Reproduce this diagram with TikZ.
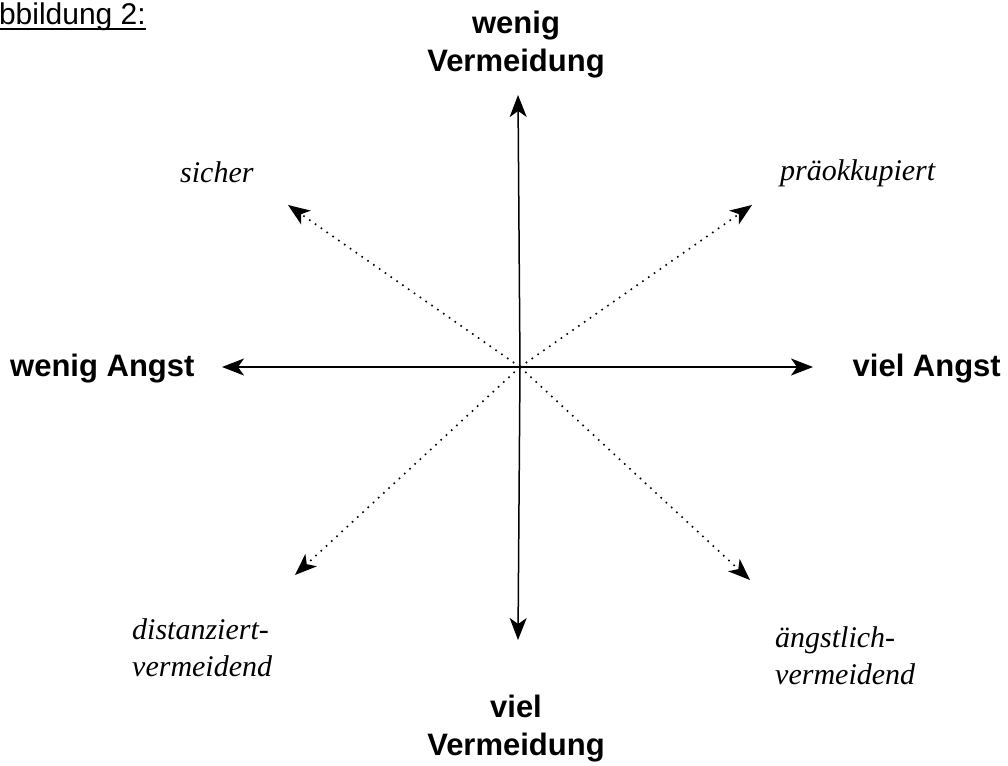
\documentclass[tikz,border=0pt]{standalone}
\usepackage{fontspec}
\setmainfont{Liberation Serif}
\setsansfont{Liberation Sans}
\usetikzlibrary{arrows.meta}
\newcommand\thickul[1]{\setbox0\hbox{#1}\rlap{\rule[-5.5pt]{\wd0}{2.8pt}}\box0}
\begin{document}
\begin{tikzpicture}[x=1pt,y=-1pt,
  tip/.tip={Stealth[length=22pt,width=17pt,inset=6pt]},
  axis/.style={line width=1.5pt,-tip},
  diag/.style={line width=1.6pt,dash pattern=on 1.6pt off 5.5pt,-{Stealth[length=22pt,width=17pt,inset=6pt,line width=0pt,fill=black]}},
  axlabel/.style={font=\sffamily\bfseries\fontsize{31}{38}\selectfont,align=center,inner sep=0pt},
  stlabel/.style={font=\itshape\fontsize{30}{37}\selectfont,align=left,inner sep=0pt}]
\useasboundingbox (0,0) rectangle (1008,765);
\coordinate (c) at (520,367);
\coordinate (n) at (518,95);
\coordinate (s) at (518,640);
\coordinate (w) at (222,367);
\coordinate (e) at (813,367);
\coordinate (nw) at (288,205);
\coordinate (ne) at (752,205);
\coordinate (sw) at (295,575);
\coordinate (se) at (750,580);
\draw[axis] (c) -- (n);
\draw[axis] (c) -- (s);
\draw[axis] (c) -- (w);
\draw[axis] (c) -- (e);
\draw[diag] (c) -- (nw);
\draw[diag] (c) -- (ne);
\draw[diag] (c) -- (sw);
\draw[diag] (c) -- (se);
\node[font=\sffamily\fontsize{30}{36}\selectfont,anchor=base east,inner sep=0pt] (title) at (146,25) {\thickul{Abbildung 2:}};
\node[axlabel,anchor=base] (lnorth) at (516,72) {wenig\\Vermeidung};
\node[axlabel,anchor=base] (lsouth) at (516,755) {viel\\Vermeidung};
\node[axlabel,anchor=west] (lwest) at (10,369) {wenig Angst};
\node[axlabel,anchor=east] (least) at (1001,369) {viel Angst};
\node[stlabel,anchor=base west] (lsicher) at (180,182) {sicher};
\node[stlabel,anchor=base west] (lpraek) at (780,180) {präokkupiert};
\node[stlabel,anchor=base west] (ldist) at (132,676) {distanziert-\\vermeidend};
\node[stlabel,anchor=base west] (laengst) at (775,684) {ängstlich-\\vermeidend};
\end{tikzpicture}
\end{document}
